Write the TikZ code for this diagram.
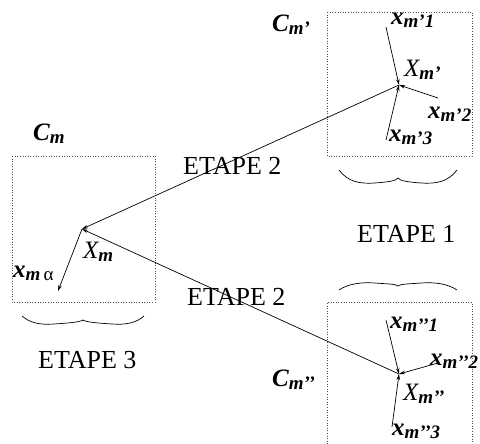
\documentclass[tikz,border=0pt]{standalone}
\usepackage{fontspec}
\setmainfont{Liberation Serif}
\usetikzlibrary{arrows.meta}
\newcommand\bigf{\fontsize{25}{25}\selectfont}
\newcommand\subf{\fontsize{19}{19}\selectfont}
\newcommand\lbl[2]{{\bigf\bfseries\itshape #1}\raisebox{-3pt}{\subf\bfseries\itshape #2}}
\newcommand\hublbl[2]{{\bigf\itshape #1}\raisebox{-3pt}{\subf\bfseries\itshape #2}}
\tikzset{
  txt/.style={inner sep=0pt, anchor=base west},
  etape/.style={inner sep=0pt, anchor=base west, font=\fontsize{26}{26}\selectfont},
  boxline/.style={dotted, line width=0.6pt, black!70},
  arr/.style={-{Stealth[length=6pt,width=3.5pt]}, line width=0.7pt},
  bracel/.style={line width=0.7pt}
}
\begin{document}
\begin{tikzpicture}[x=1pt,y=-1pt]
\useasboundingbox (0,0) rectangle (480,444);
% boxes
\draw[boxline] (12,156) rectangle (155,302);
\draw[boxline] (327,12) rectangle (472,156);
\draw[boxline] (327,444) -- (327,302) -- (472,302) -- (472,444);
% hubs and ends
\coordinate (hm) at (82,229);
\coordinate (hp) at (399,85);
\coordinate (hpp) at (399,374);
\coordinate (a1) at (386,27);
\coordinate (a2) at (438,98);
\coordinate (a3) at (386,140);
\coordinate (b1) at (386,320);
\coordinate (b2) at (438,363);
\coordinate (b3) at (392,427);
\coordinate (alpha) at (58,291);
% connectors
\draw[arr] (hp) -- (hm);
\draw[arr] (hpp) -- (hm);
\draw[arr] (a1) -- (hp);
\draw[arr] (a2) -- (hp);
\draw[arr] (a3) -- (hp);
\draw[arr] (b1) -- (hpp);
\draw[arr] (b2) -- (hpp);
\draw[arr] (b3) -- (hpp);
\draw[arr] (hm) -- (alpha);
% labels
\node[txt] (Cm) at (33,140) {\lbl{C}{m}};
\node[txt] (Cp) at (272,32) {\lbl{C}{m’}};
\node[txt] (Cpp) at (272,386) {\lbl{C}{m’’}};
\node[txt] (xp1) at (391,25) {\lbl{x}{m’1}};
\node[txt] (Xp) at (404,77) {\hublbl{X}{m’}};
\node[txt] (xp2) at (428,118) {\lbl{x}{m’2}};
\node[txt] (xp3) at (389,142) {\lbl{x}{m’3}};
\node[txt] (Xm) at (83,258) {\hublbl{X}{m}};
\node[txt] (xma) at (13,277) {\lbl{x}{m\,{\upshape\mdseries α}}};
\node[txt] (xpp1) at (390,328) {\lbl{x}{m’’1}};
\node[txt] (xpp2) at (430,365) {\lbl{x}{m’’2}};
\node[txt] (Xpp) at (403,400) {\hublbl{X}{m’’}};
\node[txt] (xpp3) at (392,435) {\lbl{x}{m’’3}};
\node[etape] (e2a) at (183,175) {ETAPE 2};
\node[etape] (e2b) at (187,305) {ETAPE 2};
\node[etape] (e1) at (357,242) {ETAPE 1};
\node[etape] (e3) at (38,368) {ETAPE 3};
% braces
\draw[bracel] (339,170) .. controls (348,182) and (360,184) .. (375,183)
  .. controls (388,182) and (396,181) .. (398,178)
  .. controls (400,181) and (408,182) .. (421,183)
  .. controls (436,184) and (448,182) .. (457,170);
\draw[bracel] (22,316) .. controls (30,323) and (40,325) .. (54,324)
  .. controls (70,323) and (80,322) .. (83,320)
  .. controls (86,322) and (96,323) .. (112,324)
  .. controls (126,325) and (136,323) .. (144,316);
\draw[bracel] (339,290) .. controls (348,284) and (360,282) .. (375,283)
  .. controls (388,284) and (396,284) .. (398,286)
  .. controls (400,284) and (408,284) .. (421,283)
  .. controls (436,282) and (448,284) .. (457,290);
\end{tikzpicture}
\end{document}
